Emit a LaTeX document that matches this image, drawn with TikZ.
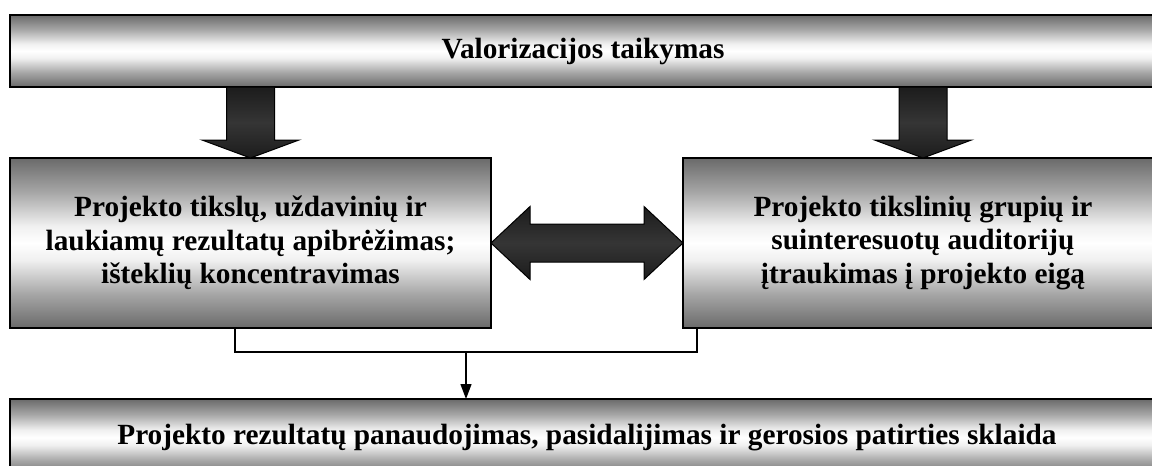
\documentclass[tikz,border=0pt]{standalone}
\usepackage{fontspec}
\setmainfont{Liberation Serif}
\usetikzlibrary{arrows.meta,calc}

\definecolor{edgegray}{HTML}{6A6A6A}
\definecolor{midgray}{HTML}{A6A6A6}
\definecolor{nearwhite}{HTML}{F0F0F0}
\definecolor{arrowdark}{HTML}{1C1C1C}
\definecolor{arrowmid}{HTML}{353535}

% metallic band: grey at the edges, white in the middle
\pgfdeclareverticalshading{barshade}{100bp}{%
  color(0bp)=(edgegray); color(25bp)=(edgegray); color(35bp)=(midgray);
  color(45bp)=(nearwhite); color(50bp)=(white); color(55bp)=(nearwhite);
  color(65bp)=(midgray); color(75bp)=(edgegray); color(100bp)=(edgegray)}

\tikzset{
  bar/.style={draw=black, line width=1.5pt, shading=barshade, inner sep=0pt,
    outer sep=0pt, anchor=north west, align=center,
    font=\bfseries\fontsize{29.3}{33.5}\selectfont},
  blockfill/.style={draw=black, line width=1pt, line join=miter,
    top color=arrowdark, bottom color=arrowdark, middle color=arrowmid},
  conn/.style={draw=black, line width=1.3pt},
  downblock/.pic={
    \path[blockfill] (-24,0) -- (24,0) -- (24,53) -- (48.5,53) -- (0,71)
      -- (-48.5,53) -- (-24,53) -- cycle;},
  twoway/.pic={
    \path[blockfill] (-96,0) -- (-57,-36.5) -- (-57,-19) -- (57,-19)
      -- (57,-36.5) -- (96,0) -- (57,36.5) -- (57,19) -- (-57,19)
      -- (-57,36.5) -- cycle;}
}

\begin{document}
\begin{tikzpicture}[x=1pt, y=-1pt]
  \useasboundingbox (0,0) rectangle (1152,466);
  \clip (0,0) rectangle (1152,466);

  \node[bar, minimum width=1146pt, minimum height=72pt] (topbar) at (10,15)
    {Valorizacijos taikymas};
  \node[bar, minimum width=481pt, minimum height=170pt] (lbox) at (10,158)
    {Projekto tikslų, uždavinių ir\\laukiamų rezultatų apibrėžimas;\\išteklių koncentravimas};
  \node[bar, minimum width=480pt, minimum height=170pt] (rbox) at (683,158)
    {Projekto tikslinių grupių ir\\suinteresuotų auditorijų\\įtraukimas į projekto eigą};
  \node[bar, minimum width=1154pt, minimum height=77pt] (botbar) at (10,399)
    {Projekto rezultatų panaudojimas, pasidalijimas ir gerosios patirties sklaida};

  % block arrows
  \pic at (topbar.south -| lbox.north) {downblock};
  \pic at (topbar.south -| rbox.north) {downblock};
  \pic at ($(lbox.east)!0.5!(rbox.west)$) {twoway};

  % joining connector
  \coordinate (jn) at (466,352);
  \draw[conn] ([xshift=-15.5pt]lbox.south) |- (jn) -| ([xshift=14pt]rbox.south west);
  \draw[conn, -{Triangle[length=15pt, width=11pt]}] (jn) -- (jn |- botbar.north);
\end{tikzpicture}
\end{document}
